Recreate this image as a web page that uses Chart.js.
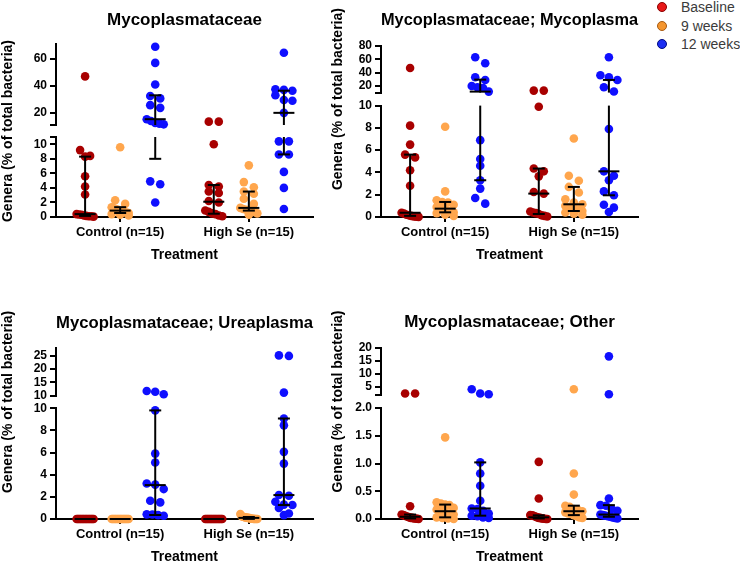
<!DOCTYPE html>
<html lang="en">
<head>
  <meta charset="UTF-8">
  <title>Mycoplasmataceae genera by treatment</title>
  <script src="https://cdn.jsdelivr.net/npm/chart.js"></script>
  <style>
    body { margin: 0; background: #fff; width: 740px; height: 562px; overflow: hidden; position: relative; font-family: 'Liberation Sans', Arial, sans-serif; }
    canvas { position: absolute; }
    #legend { position: absolute; left: 657px; top: -2px; width: 90px; font-size: 14px; color: #3b3b3b; white-space: nowrap; }
    .item { height: 18.5px; display: flex; align-items: center; }
    .dot { flex: none; width: 8px; height: 8px; border-radius: 50%; margin-right: 14px; border: 1px solid; }
  </style>
</head>
<body>

<canvas id="p1" width="330" height="272" style="left:0;top:0"></canvas>
<canvas id="p2" width="330" height="272" style="left:325px;top:0"></canvas>
<canvas id="p3" width="330" height="290" style="left:0;top:282px"></canvas>
<canvas id="p4" width="330" height="290" style="left:325px;top:282px"></canvas>

<div id="legend">
  <div class="item"><span class="dot" style="background:#e81818;border-color:#8a0000"></span>Baseline</div>
  <div class="item"><span class="dot" style="background:#f5962e;border-color:#a85a10"></span>9 weeks</div>
  <div class="item"><span class="dot" style="background:#1c2ef2;border-color:#000c80"></span>12 weeks</div>
</div>

<script>
const groups = ['Control (n=15)', 'High Se (n=15)'];
const seriesNames = ['Baseline', '9 weeks', '12 weeks'];
const seriesColors = ['#a80000', '#ffa64d', '#0f0fff'];

// --- Mycoplasmataceae ---
const famBaseC  = [0.05, 0.1, 0.1, 0.15, 0.2, 0.3, 0.35, 0.4, 3.1, 4.2, 5.6, 8.3, 8.4, 9.2, 47];
const fam9wC    = [0.2, 0.3, 0.4, 0.55, 0.6, 0.7, 0.8, 0.88, 1.0, 1.1, 1.2, 1.35, 1.8, 2.3, 9.6];
const fam12wC   = [2.0, 4.5, 4.9, 11.5, 12, 12.5, 14, 15.3, 23.7, 25.7, 30.7, 32.5, 41, 57, 69];
const famBaseH  = [0.1, 0.2, 0.4, 0.5, 0.7, 0.9, 2.0, 2.2, 3.3, 3.5, 4.2, 4.4, 10.0, 13.5, 13.5];
const fam9wH    = [0.3, 0.5, 0.7, 0.88, 0.95, 1.0, 1.1, 1.25, 1.8, 2.5, 3.2, 3.5, 4.1, 4.8, 7.1];
const fam12wH   = [1.1, 4.0, 6.2, 8.6, 8.6, 10.4, 10.4, 20, 29, 29.5, 33, 36.4, 37, 37.5, 64.5];
const famMedian = [0.4, 0.88, 15.3, 2.1, 1.25, 20];
const famQ1     = [0.15, 0.55, 8.0, 0.45, 0.88, 8.6];
const famQ3     = [8.3, 1.35, 33, 4.4, 3.5, 36.4];
const famUpperTicks = [20, 40, 60];
const famLowerTicks = [0, 2, 4, 6, 8, 10];

// --- Mycoplasmataceae; Mycoplasma ---
const mycBaseC  = [0.01, 0.02, 0.05, 0.1, 0.15, 0.2, 0.3, 0.38, 2.8, 4.2, 5.35, 5.6, 6.5, 8.2, 47];
const myc9wC    = [0.1, 0.2, 0.35, 0.42, 0.5, 0.6, 0.7, 0.75, 0.9, 1.1, 1.3, 1.35, 1.5, 2.3, 8.1];
const myc12wC   = [1.2, 1.7, 2.55, 3.3, 4.6, 5.2, 6.9, 11.5, 17, 18, 20, 29, 33, 54, 63];
const mycBaseH  = [0.05, 0.1, 0.15, 0.27, 0.35, 0.4, 0.5, 2.1, 2.25, 3.65, 4.1, 4.35, 9.9, 13, 13];
const myc9wH    = [0.2, 0.3, 0.4, 0.54, 0.7, 0.9, 1.0, 1.14, 1.3, 1.6, 2.2, 2.7, 3.25, 3.7, 7.05];
const myc12wH   = [0.45, 0.84, 1.1, 1.95, 2.3, 3.3, 3.7, 4.1, 7.9, 11.6, 18, 29, 33, 36, 63];
const mycMedian = [0.38, 0.75, 11.5, 2.1, 1.14, 4.1];
const mycQ1     = [0.1, 0.42, 3.3, 0.27, 0.54, 1.95];
const mycQ3     = [5.6, 1.35, 29.5, 4.35, 2.7, 29];
const mycUpperTicks = [20, 40, 60, 80];
const mycLowerTicks = [0, 2, 4, 6, 8, 10];

// --- Mycoplasmataceae; Ureaplasma ---
const ureBaseC  = [0, 0, 0, 0, 0, 0, 0, 0, 0, 0, 0, 0, 0, 0, 0];
const ure9wC    = [0, 0, 0, 0, 0, 0, 0, 0, 0, 0, 0, 0, 0, 0, 0];
const ure12wC   = [0.3, 0.35, 0.4, 0.42, 1.5, 1.65, 2.7, 3.1, 3.2, 5.1, 5.9, 9.8, 10.5, 11.4, 11.7];
const ureBaseH  = [0, 0, 0, 0, 0, 0, 0, 0, 0, 0, 0, 0, 0, 0, 0];
const ure9wH    = [0, 0, 0, 0.01, 0.02, 0.03, 0.05, 0.1, 0.1, 0.12, 0.15, 0.18, 0.2, 0.25, 0.45];
const ure12wH   = [0.35, 0.5, 1.0, 1.26, 1.3, 1.56, 2.1, 2.16, 5.0, 6.06, 8.45, 9.07, 11.1, 25, 25.2];
const ureMedian = [0, 0, 3.06, 0, 0.1, 2.16];
const ureQ1     = [0, 0, 0.36, 0, 0.01, 1.26];
const ureQ3     = [0, 0, 9.8, 0, 0.18, 9.07];
const ureUpperTicks = [10, 15, 20, 25];
const ureLowerTicks = [0, 2, 4, 6, 8, 10];

// --- Mycoplasmataceae; Other ---
const othBaseC  = [0, 0.005, 0.01, 0.01, 0.02, 0.02, 0.03, 0.04, 0.05, 0.06, 0.07, 0.08, 0.23, 2.6, 2.6];
const oth9wC    = [0, 0.01, 0.02, 0.03, 0.08, 0.1, 0.12, 0.14, 0.17, 0.2, 0.25, 0.26, 0.28, 0.3, 1.47];
const oth12wC   = [0.02, 0.03, 0.05, 0.06, 0.1, 0.15, 0.18, 0.19, 0.33, 0.6, 0.82, 1.02, 2.3, 2.6, 4.2];
const othBaseH  = [0, 0, 0.005, 0.01, 0.01, 0.02, 0.02, 0.03, 0.04, 0.05, 0.06, 0.066, 0.07, 0.37, 1.03];
const oth9wH    = [0.02, 0.03, 0.05, 0.07, 0.09, 0.1, 0.12, 0.14, 0.16, 0.18, 0.22, 0.24, 0.44, 0.82, 4.2];
const oth12wH   = [0.01, 0.02, 0.03, 0.04, 0.05, 0.06, 0.07, 0.08, 0.15, 0.18, 0.24, 0.25, 0.37, 2.3, 16.8];
const othMedian = [0.04, 0.14, 0.19, 0.03, 0.14, 0.08];
const othQ1     = [0.01, 0.03, 0.06, 0.01, 0.07, 0.04];
const othQ3     = [0.08, 0.26, 1.02, 0.066, 0.24, 0.25];
const othUpperTicks = [5, 10, 15, 20];
const othLowerTicks = [0, 0.5, 1, 1.5, 2];

const panels = [
  { id: 'p1', title: 'Mycoplasmataceae', values: [[famBaseC, fam9wC, fam12wC], [famBaseH, fam9wH, fam12wH]],
    median: famMedian, q1: famQ1, q3: famQ3, upper: [11, 71], lower: [0, 11],
    upperTicks: famUpperTicks, lowerTicks: famLowerTicks, decimals: [0, 0] },
  { id: 'p2', title: 'Mycoplasmataceae; Mycoplasma', values: [[mycBaseC, myc9wC, myc12wC], [mycBaseH, myc9wH, myc12wH]],
    median: mycMedian, q1: mycQ1, q3: mycQ3, upper: [10, 80], lower: [0, 10],
    upperTicks: mycUpperTicks, lowerTicks: mycLowerTicks, decimals: [0, 0] },
  { id: 'p3', title: 'Mycoplasmataceae; Ureaplasma', values: [[ureBaseC, ure9wC, ure12wC], [ureBaseH, ure9wH, ure12wH]],
    median: ureMedian, q1: ureQ1, q3: ureQ3, upper: [10, 28], lower: [0, 10],
    upperTicks: ureUpperTicks, lowerTicks: ureLowerTicks, decimals: [0, 0] },
  { id: 'p4', title: 'Mycoplasmataceae; Other', values: [[othBaseC, oth9wC, oth12wC], [othBaseH, oth9wH, oth12wH]],
    median: othMedian, q1: othQ1, q3: othQ3, upper: [2, 20], lower: [0, 2],
    upperTicks: othUpperTicks, lowerTicks: othLowerTicks, decimals: [0, 1] }
];

// layout in canvas pixels (kept apart from the data)
const layouts = {
  p1: { bottom: 217, segs: [81, 12, 80], tPad: [9.8, 13.8], yPad: 0 },
  p2: { bottom: 217, segs: [46.6, 13, 111.4], tPad: [9.8, 15.8], yPad: 4.6 },
  p3: { bottom: 237, segs: [47.6, 12.7, 111], tPad: [30.8, 14.8], yPad: 0 },
  p4: { bottom: 237, segs: [47, 13, 111], tPad: [29.8, 15.8], yPad: 4.6 }
};
const AXIS_W = 56, AXIS_RIGHT = 313, XBOX_H = 47;
const colX = (g, s) => 1 + s + g * 3.67;
const groupCenter = g => colX(g, 1);

Chart.defaults.font.family = "'Liberation Sans', Arial, sans-serif";
Chart.defaults.color = '#000';

function yAxis(range, labels, breakVal, weight, stackWeight, decimals) {
  const vals = (labels.includes(breakVal) ? labels : labels.concat([breakVal])).slice().sort((a, b) => a - b);
  return {
    type: 'linear', position: 'left', stack: 'ys', stackWeight: stackWeight, weight: weight,
    min: range[0], max: range[1],
    afterBuildTicks: sc => { sc.ticks = vals.map(v => ({ value: v })); },
    afterFit: sc => { sc.width = AXIS_W; },
    ticks: { autoSkip: false, padding: 3, color: '#000', font: { size: 12, weight: 'bold' },
             callback: v => labels.includes(v) ? v.toFixed(decimals) : '' },
    grid: { display: true, drawOnChartArea: false, drawTicks: true, tickLength: 6, tickWidth: 2, tickColor: '#000', color: '#000', lineWidth: 2 },
    border: { display: true, color: '#000', width: 2 }
  };
}

// spread points of one column sideways, like a scatter dot plot
const swarmPlugin = {
  id: 'swarm',
  afterDatasetsUpdate(chart) {
    const buckets = {};
    chart.data.datasets.forEach((ds, di) => {
      chart.getDatasetMeta(di).data.forEach((el, i) => {
        const key = ds.series + ':' + ds.data[i].x;
        (buckets[key] = buckets[key] || []).push(el);
      });
    });
    Object.values(buckets).forEach(els => {
      els.sort((a, b) => a.y - b.y);
      let row = [];
      const place = () => {
        const k = row.length;
        const step = k > 1 ? Math.min(10, 17 / (k - 1)) : 0;
        row.forEach((el, i) => { el.x += (i - (k - 1) / 2) * step; });
        row = [];
      };
      els.forEach(el => {
        if (row.length && el.y - row[0].y > 6) place();
        row.push(el);
      });
      place();
    });
  }
};

function makeChart(p) {
  const L = layouts[p.id];
  const canvas = document.getElementById(p.id);
  const brk = p.lower[1];

  const datasets = [];
  seriesNames.forEach((name, s) => {
    ['yUp', 'yLow'].forEach(axis => {
      const pts = [];
      groups.forEach((g, gi) => {
        p.values[gi][s].forEach(v => {
          if ((axis === 'yUp') === (v > brk)) pts.push({ x: colX(gi, s), y: v });
        });
      });
      datasets.push({ label: name, series: s, data: pts, yAxisID: axis,
        backgroundColor: seriesColors[s], borderWidth: 0, pointRadius: 4.3, clip: false });
    });
  });

  const barsPlugin = {
    id: 'bars',
    afterDatasetsDraw(chart) {
      const ctx = chart.ctx, xs = chart.scales.x;
      const segs = [chart.scales.yLow, chart.scales.yUp];
      const hline = (x, v, half) => {
        const sc = segs.find(s => v >= s.min && v <= s.max);
        if (!sc) return;
        const y = sc.getPixelForValue(v);
        ctx.beginPath(); ctx.moveTo(x - half, y); ctx.lineTo(x + half, y); ctx.stroke();
      };
      ctx.save();
      ctx.strokeStyle = '#000';
      ctx.lineWidth = 2;
      p.median.forEach((m, c) => {
        const x = xs.getPixelForValue(colX(Math.floor(c / 3), c % 3));
        segs.forEach(s => {
          const a = Math.max(p.q1[c], s.min), b = Math.min(p.q3[c], s.max);
          if (b > a) {
            ctx.beginPath(); ctx.moveTo(x, s.getPixelForValue(a)); ctx.lineTo(x, s.getPixelForValue(b)); ctx.stroke();
          }
        });
        hline(x, p.q1[c], 6);
        hline(x, p.q3[c], 6);
        hline(x, m, 10.5);
      });
      ctx.restore();
    }
  };

  return new Chart(canvas, {
    type: 'scatter',
    data: { datasets: datasets },
    options: {
      responsive: false,
      animation: false,
      events: [],
      layout: { padding: { left: 0, top: 0, right: canvas.width - AXIS_RIGHT, bottom: canvas.height - L.bottom - XBOX_H } },
      scales: {
        x: {
          type: 'linear', position: 'bottom', min: 0.17, max: 7.5,
          afterBuildTicks: sc => { sc.ticks = groups.map((g, gi) => ({ value: groupCenter(gi) })); },
          afterFit: sc => { sc.height = XBOX_H; },
          ticks: { autoSkip: false, maxRotation: 0, padding: 3, color: '#000', font: { size: 13, weight: 'bold' },
                   callback: (v, i) => groups[i] },
          grid: { display: true, drawOnChartArea: false, drawTicks: true, tickLength: 5, tickWidth: 2, tickColor: '#000', color: '#000', lineWidth: 2 },
          border: { display: true, color: '#000', width: 2 },
          title: { display: true, text: 'Treatment', color: '#000', font: { size: 14, weight: 'bold' }, padding: { top: 0, bottom: 0 } }
        },
        yUp: yAxis(p.upper, p.upperTicks, p.upper[0], 2, L.segs[0], p.decimals[0]),
        gap: {
          type: 'linear', position: 'left', stack: 'ys', stackWeight: L.segs[1], weight: 1, min: 0, max: 1,
          afterFit: sc => { sc.width = AXIS_W; },
          ticks: { display: false },
          grid: { display: false },
          border: { display: false },
          title: { display: true, text: 'Genera (% of total bacteria)', color: '#000',
                   font: { size: 14, weight: 'bold' }, padding: { top: L.yPad, bottom: 0 } }
        },
        yLow: yAxis(p.lower, p.lowerTicks, p.lower[1], 0, L.segs[2], p.decimals[1])
      },
      plugins: {
        legend: { display: false },
        tooltip: { enabled: false },
        title: { display: true, text: p.title, fullSize: false, color: '#000',
                 font: { size: 17, weight: 'bold' }, padding: { top: L.tPad[0], bottom: L.tPad[1] } }
      }
    },
    plugins: [swarmPlugin, barsPlugin]
  });
}

panels.forEach(makeChart);
</script>

</body>
</html>
